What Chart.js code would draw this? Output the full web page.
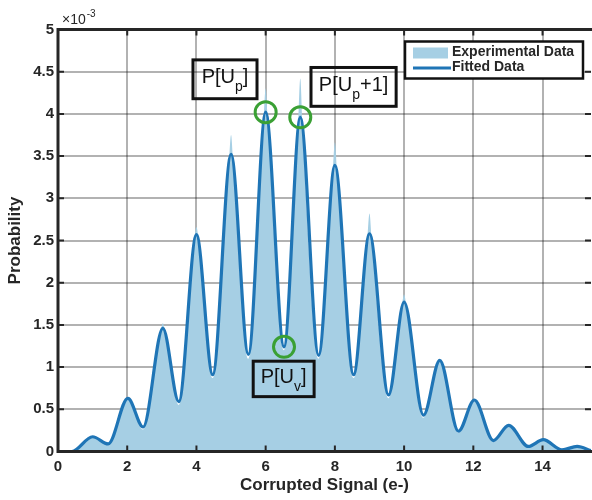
<!DOCTYPE html>
<html>
<head>
<meta charset="utf-8">
<script src="https://cdn.jsdelivr.net/npm/chart.js@4.4.1/dist/chart.umd.min.js"></script>
<style>
  html, body { margin: 0; padding: 0; background: #fff; overflow: hidden; }
</style>
</head>
<body>
<canvas id="probChart" width="592" height="500"></canvas>
<script>
// probabilities are given in units of 1e-3 (axis shows x10^-3)
const fitX = [0, 0.4, 1.0, 1.45, 2.02, 2.46, 3.03, 3.49, 4.0, 4.47, 5.0, 5.5, 6.0, 6.53, 7.0, 7.53,
              8.0, 8.54, 9.0, 9.55, 10.0, 10.56, 11.03, 11.57, 12.03, 12.58, 13.02, 13.59, 14.02, 14.56, 15.0, 15.4];
const fitY = [0, 0, 0.175, 0.09, 0.63, 0.29, 1.46, 0.59, 2.57, 0.91, 3.52, 1.15, 4.02, 1.24, 3.96, 1.14,
              3.39, 0.91, 2.58, 0.67, 1.77, 0.43, 1.08, 0.24, 0.61, 0.13, 0.31, 0.06, 0.14, 0.02, 0.06, 0.01];

const expX = [0, 0.4, 1.0, 1.45, 2.02, 2.46, 2.96, 3.03, 3.1, 3.49, 3.93, 4.0, 4.07, 4.47, 4.93, 5.0, 5.07, 5.5,
              5.93, 6.0, 6.07, 6.53, 6.93, 7.0, 7.07, 7.53, 7.93, 8.0, 8.07, 8.54, 8.93, 9.0, 9.07, 9.55,
              9.93, 10.0, 10.07, 10.56, 11.03, 11.57, 12.03, 12.58, 13.02, 13.59, 14.02, 14.56, 15.0, 15.4];
const expY = [0, 0, 0.17, 0.08, 0.62, 0.26, 1.4, 1.52, 1.4, 0.55, 2.47, 2.66, 2.47, 0.87, 3.36, 3.75, 3.36, 1.1,
              3.85, 4.3, 3.85, 1.2, 3.8, 4.42, 3.8, 1.1, 3.26, 3.66, 3.26, 0.87, 2.48, 2.82, 2.48, 0.63,
              1.71, 1.86, 1.71, 0.4, 1.07, 0.22, 0.6, 0.12, 0.3, 0.05, 0.13, 0.02, 0.05, 0.01];

const xTicks = [0, 2, 4, 6, 8, 10, 12, 14];
const yTicks = [0, 0.5, 1, 1.5, 2, 2.5, 3, 3.5, 4, 4.5, 5];

const fitColor = 'rgb(31,117,182)';
const expColor = 'rgb(166,207,228)';
const ringColor = 'rgb(58,160,52)';
const inkColor = '#262626';

// labelled boxes and rings (data units)
const notes = [
  { main: 'P[U', sub: 'p', tail: ']', x0: 3.9, x1: 5.75, y0: 4.64, y1: 4.18 },
  { main: 'P[U', sub: 'p', tail: '+1]', x0: 7.31, x1: 9.77, y0: 4.55, y1: 4.09 },
  { main: 'P[U', sub: 'v', tail: ']', x0: 5.64, x1: 7.40, y0: 1.07, y1: 0.65 }
];
const rings = [[6.0, 4.02], [7.0, 3.96], [6.53, 1.24]];

const pts = (xs, ys) => xs.map((x, i) => ({ x: x, y: ys[i] }));

const overlay = {
  id: 'overlay',
  afterDatasetsDraw(chart) {
    const { ctx, chartArea: a, scales: { x, y } } = chart;
    ctx.save();

    // inward tick marks
    ctx.strokeStyle = inkColor;
    ctx.lineWidth = 2;
    ctx.beginPath();
    xTicks.forEach(v => {
      const px = x.getPixelForValue(v);
      ctx.moveTo(px, a.top); ctx.lineTo(px, a.top + 6);
      ctx.moveTo(px, a.bottom); ctx.lineTo(px, a.bottom - 6);
    });
    yTicks.forEach(v => {
      const py = y.getPixelForValue(v);
      ctx.moveTo(a.left, py); ctx.lineTo(a.left + 6, py);
      ctx.moveTo(a.right, py); ctx.lineTo(a.right - 6, py);
    });
    ctx.stroke();

    // axes box (left, top, bottom)
    ctx.lineWidth = 3;
    ctx.beginPath();
    ctx.moveTo(a.right + 2, a.top);
    ctx.lineTo(a.left, a.top);
    ctx.lineTo(a.left, a.bottom);
    ctx.lineTo(a.right + 2, a.bottom);
    ctx.stroke();

    // rings
    ctx.strokeStyle = ringColor;
    ctx.lineWidth = 3;
    rings.forEach(r => {
      ctx.beginPath();
      ctx.arc(x.getPixelForValue(r[0]), y.getPixelForValue(r[1]), 10.5, 0, Math.PI * 2);
      ctx.stroke();
    });

    // labelled boxes
    notes.forEach(n => {
      const bx0 = x.getPixelForValue(n.x0), bx1 = x.getPixelForValue(n.x1);
      const by0 = y.getPixelForValue(n.y0), by1 = y.getPixelForValue(n.y1);
      ctx.strokeStyle = '#111';
      ctx.lineWidth = 3;
      ctx.strokeRect(bx0, by0, bx1 - bx0, by1 - by0);
      const big = '20px "Liberation Sans", Arial, sans-serif';
      const small = '14px "Liberation Sans", Arial, sans-serif';
      ctx.font = big;
      const w1 = ctx.measureText(n.main).width;
      const w3 = ctx.measureText(n.tail).width;
      ctx.font = small;
      const w2 = ctx.measureText(n.sub).width;
      let tx = (bx0 + bx1) / 2 - (w1 + w2 + w3) / 2;
      const base = (by0 + by1) / 2 + 4;
      ctx.fillStyle = '#111';
      ctx.textBaseline = 'alphabetic';
      ctx.textAlign = 'left';
      ctx.font = big;
      ctx.fillText(n.main, tx, base);
      tx += w1;
      ctx.font = small;
      ctx.fillText(n.sub, tx, base + 8);
      tx += w2;
      ctx.font = big;
      ctx.fillText(n.tail, tx, base);
    });

    // legend
    const lx = a.right - 186, ly = a.top + 12, lw = 178, lh = 37;
    ctx.fillStyle = '#fff';
    ctx.fillRect(lx, ly, lw, lh);
    ctx.strokeStyle = '#111';
    ctx.lineWidth = 2.5;
    ctx.strokeRect(lx, ly, lw, lh);
    ctx.fillStyle = expColor;
    ctx.fillRect(lx + 8, ly + 6, 35, 11);
    ctx.strokeStyle = fitColor;
    ctx.lineWidth = 3;
    ctx.beginPath();
    ctx.moveTo(lx + 8, ly + 26.5);
    ctx.lineTo(lx + 46, ly + 26.5);
    ctx.stroke();
    ctx.fillStyle = inkColor;
    ctx.font = 'bold 14px "Liberation Sans", Arial, sans-serif';
    ctx.textBaseline = 'middle';
    ctx.fillText('Experimental Data', lx + 47, ly + 11);
    ctx.fillText('Fitted Data', lx + 47, ly + 26);

    // exponent label
    ctx.fillStyle = inkColor;
    ctx.textBaseline = 'alphabetic';
    ctx.font = '14px "Liberation Sans", Arial, sans-serif';
    ctx.fillText('\u00d710', a.left + 4, a.top - 6);
    const ew = ctx.measureText('\u00d710').width;
    ctx.font = '10px "Liberation Sans", Arial, sans-serif';
    ctx.fillText('-3', a.left + 4 + ew + 1, a.top - 13);

    ctx.restore();
  }
};

const tickFont = { family: '"Liberation Sans", Arial, sans-serif', size: 15, weight: 'bold' };
const titleFont = { family: '"Liberation Sans", Arial, sans-serif', size: 17, weight: 'bold' };

new Chart(document.getElementById('probChart'), {
  type: 'line',
  data: {
    datasets: [
      {
        label: 'Fitted Data',
        data: pts(fitX, fitY),
        borderColor: fitColor,
        borderWidth: 3.2,
        fill: false,
        cubicInterpolationMode: 'monotone',
        pointRadius: 0
      },
      {
        label: 'Experimental Data',
        data: pts(expX, expY),
        borderWidth: 0,
        borderColor: 'rgba(0,0,0,0)',
        backgroundColor: expColor,
        fill: 'origin',
        cubicInterpolationMode: 'monotone',
        pointRadius: 0
      }
    ]
  },
  options: {
    responsive: false,
    animation: false,
    layout: { padding: { top: 29.5, right: 1, left: 0, bottom: 0 } },
    plugins: { legend: { display: false }, tooltip: { enabled: false } },
    scales: {
      x: {
        type: 'linear',
        min: 0,
        max: 15.4,
        afterBuildTicks: s => { s.ticks = xTicks.map(v => ({ value: v })); },
        afterFit: s => { s.height = 48.5; },
        grid: { color: 'rgba(0,0,0,0.3)', lineWidth: 2, drawTicks: false },
        border: { display: false },
        ticks: { font: tickFont, color: inkColor, padding: 6, maxRotation: 0, autoSkip: false,
                 callback: v => String(v) },
        title: { display: true, text: 'Corrupted Signal (e-)', font: titleFont, color: inkColor, padding: { top: 0, bottom: 4 } }
      },
      y: {
        min: 0,
        max: 5,
        afterBuildTicks: s => { s.ticks = yTicks.map(v => ({ value: v })); },
        afterFit: s => { s.width = 58; },
        grid: { color: 'rgba(0,0,0,0.3)', lineWidth: 2, drawTicks: false },
        border: { display: false },
        ticks: { font: tickFont, color: inkColor, padding: 4, callback: v => String(v) },
        title: { display: true, text: 'Probability', font: titleFont, color: inkColor, padding: { top: 5, bottom: 0 } }
      }
    }
  },
  plugins: [overlay]
});
</script>
</body>
</html>
